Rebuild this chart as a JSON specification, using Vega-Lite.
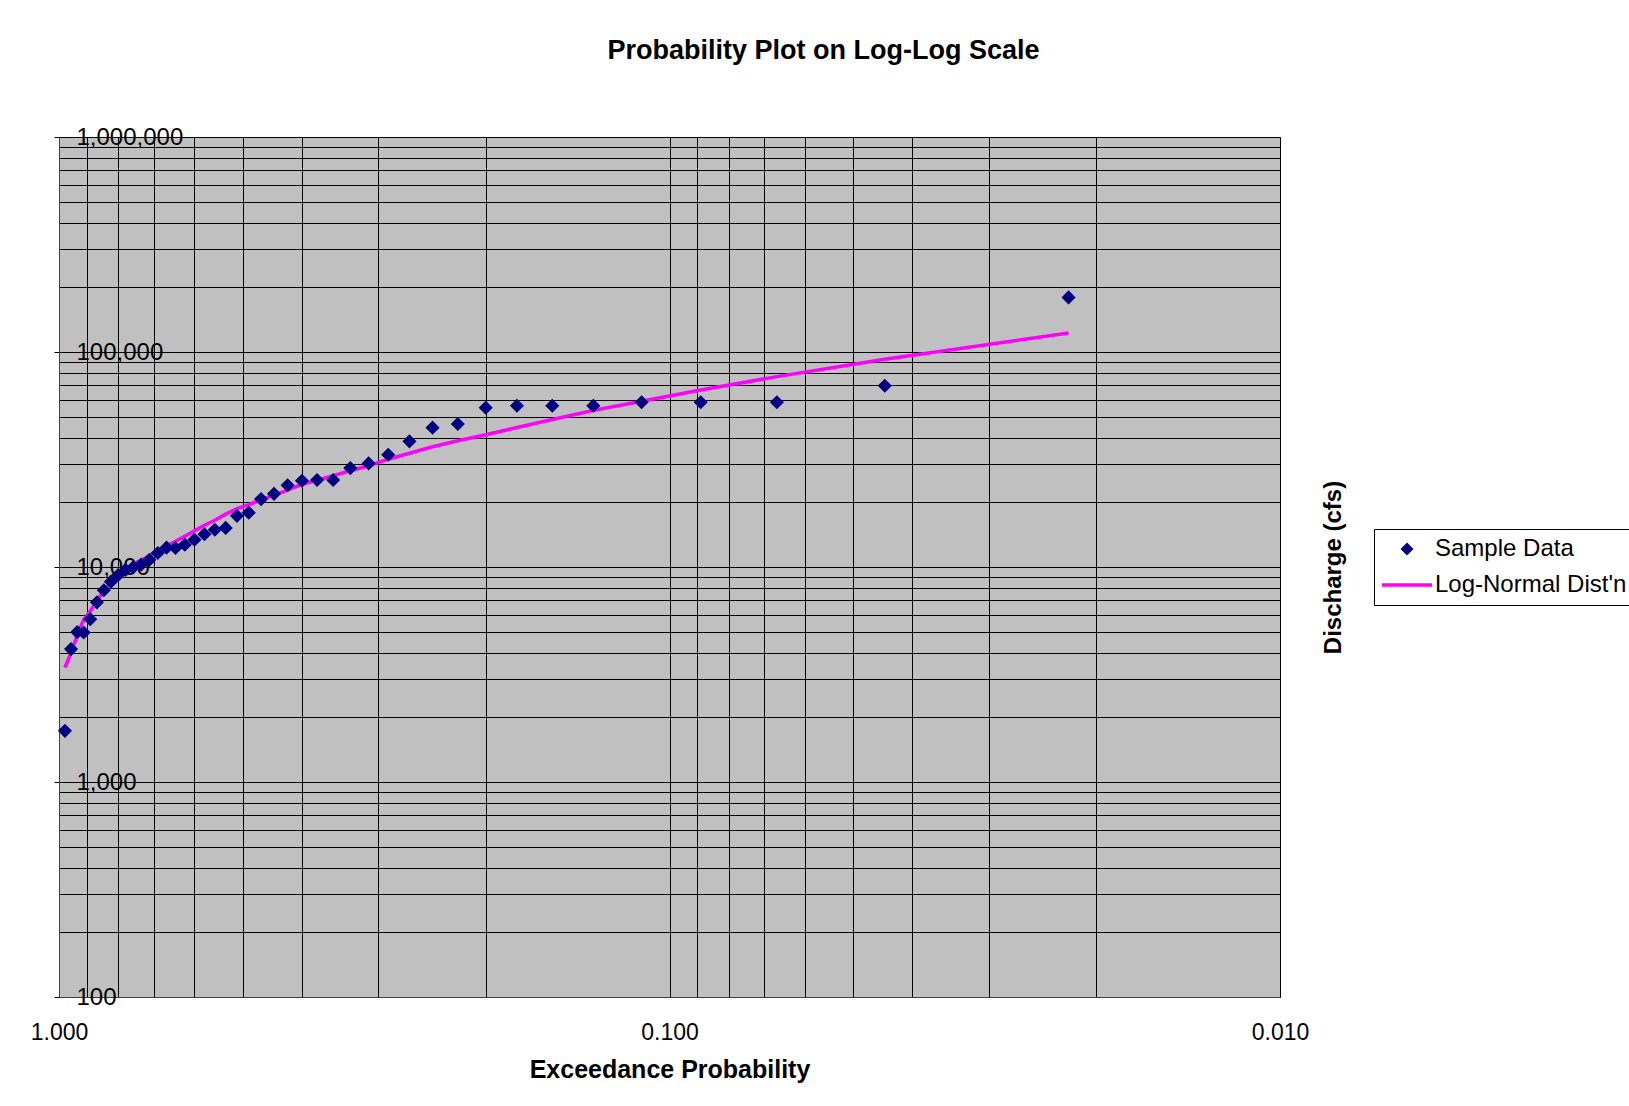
{
  "$schema": "https://vega.github.io/schema/vega-lite/v6.json",
  "width": 1221,
  "height": 860,
  "autosize": {"type": "none"},
  "padding": {"left": 59, "top": 137, "right": 349, "bottom": 109},
  "background": "white",
  "title": {
    "text": "Probability Plot on Log-Log Scale",
    "font": "Liberation Sans",
    "fontSize": 27,
    "fontWeight": "bold",
    "color": "#000000",
    "anchor": "middle",
    "frame": "group",
    "dx": 154,
    "baseline": "bottom",
    "offset": 33
  },
  "data": {
    "values": [
      {"p": 0.0222, "q": 179500, "fit": 122500},
      {"p": 0.0444, "q": 69700, "fit": 92600},
      {"p": 0.0667, "q": 58350, "fit": 76800},
      {"p": 0.0889, "q": 58350, "fit": 66600},
      {"p": 0.1111, "q": 58350, "fit": 59000},
      {"p": 0.1333, "q": 56240, "fit": 53500},
      {"p": 0.1556, "q": 56240, "fit": 48550},
      {"p": 0.1778, "q": 56240, "fit": 44560},
      {"p": 0.2, "q": 55070, "fit": 41240},
      {"p": 0.2222, "q": 46260, "fit": 38650},
      {"p": 0.2444, "q": 44460, "fit": 36270},
      {"p": 0.2667, "q": 38400, "fit": 33830},
      {"p": 0.2889, "q": 33280, "fit": 31720},
      {"p": 0.3111, "q": 30330, "fit": 29590},
      {"p": 0.3333, "q": 28840, "fit": 28040},
      {"p": 0.3556, "q": 25400, "fit": 26590},
      {"p": 0.3778, "q": 25400, "fit": 25330},
      {"p": 0.4, "q": 25200, "fit": 24270},
      {"p": 0.4222, "q": 24000, "fit": 22760},
      {"p": 0.4444, "q": 21900, "fit": 21580},
      {"p": 0.4667, "q": 20700, "fit": 20560},
      {"p": 0.4889, "q": 17900, "fit": 19490},
      {"p": 0.5111, "q": 17300, "fit": 18670},
      {"p": 0.5333, "q": 15200, "fit": 17610},
      {"p": 0.5556, "q": 14900, "fit": 16500},
      {"p": 0.5778, "q": 14200, "fit": 15640},
      {"p": 0.6, "q": 13400, "fit": 14750},
      {"p": 0.6222, "q": 12700, "fit": 13910},
      {"p": 0.6444, "q": 12250, "fit": 13180},
      {"p": 0.6667, "q": 12300, "fit": 12560},
      {"p": 0.6889, "q": 11620, "fit": 11980},
      {"p": 0.7111, "q": 10800, "fit": 11290},
      {"p": 0.7333, "q": 10260, "fit": 10760},
      {"p": 0.7556, "q": 9970, "fit": 10360},
      {"p": 0.7778, "q": 9690, "fit": 9770},
      {"p": 0.8, "q": 9180, "fit": 9160},
      {"p": 0.8222, "q": 8550, "fit": 8450},
      {"p": 0.8444, "q": 7800, "fit": 7760},
      {"p": 0.8667, "q": 6850, "fit": 6970},
      {"p": 0.8889, "q": 5720, "fit": 6230},
      {"p": 0.9111, "q": 4960, "fit": 5690},
      {"p": 0.9333, "q": 4980, "fit": 4840},
      {"p": 0.9556, "q": 4150, "fit": 3990},
      {"p": 0.9778, "q": 1730, "fit": 3410}
    ]
  },
  "encoding": {
    "x": {
      "field": "p",
      "type": "quantitative",
      "scale": {"type": "log", "domain": [0.01, 1], "reverse": true, "nice": false},
      "axis": {
        "values": [1, 0.9, 0.8, 0.7, 0.6, 0.5, 0.4, 0.3, 0.2, 0.1, 0.09, 0.08, 0.07, 0.06, 0.05, 0.04, 0.03, 0.02, 0.01],
        "grid": true,
        "gridColor": "#000000",
        "gridWidth": 1,
        "gridOpacity": 1,
        "ticks": false,
        "domain": true,
        "domainColor": "#404040",
        "labelExpr": "(datum.value == 1 || datum.value == 0.1 || datum.value == 0.01) ? format(datum.value, '.3f') : ''",
        "labelFont": "Liberation Sans",
        "labelFontSize": 23,
        "labelColor": "#000000",
        "labelPadding": 24,
        "labelFlush": false,
        "labelOverlap": false,
        "title": "Exceedance Probability",
        "titleFont": "Liberation Sans",
        "titleFontSize": 25,
        "titleFontWeight": "bold",
        "titleColor": "#000000",
        "titlePadding": 13
      }
    }
  },
  "layer": [
    {
      "mark": {"type": "line", "strokeWidth": 3.5, "clip": true},
      "encoding": {
        "y": {
          "field": "fit",
          "type": "quantitative",
          "scale": {"type": "log", "domain": [100, 1000000], "nice": false},
          "axis": {
            "values": [100, 200, 300, 400, 500, 600, 700, 800, 900, 1000, 2000, 3000, 4000, 5000, 6000, 7000, 8000, 9000, 10000, 20000, 30000, 40000, 50000, 60000, 70000, 80000, 90000, 100000, 200000, 300000, 400000, 500000, 600000, 700000, 800000, 900000, 1000000],
            "grid": true,
            "gridColor": "#000000",
            "gridWidth": 1,
            "gridOpacity": 1,
            "tickSize": 5,
            "tickColor": "#000000",
            "tickOpacity": {"condition": {"test": "indexof([100, 1000, 10000, 100000, 1000000], datum.value) >= 0", "value": 1}, "value": 0},
            "domainColor": "#404040",
            "labelExpr": "indexof([100, 1000, 10000, 100000, 1000000], datum.value) >= 0 ? format(datum.value, ',') : ''",
            "labelAlign": "left",
            "labelBaseline": "middle",
            "labelPadding": -22,
            "labelFont": "Liberation Sans",
            "labelFontSize": 24,
            "labelColor": "#000000",
            "labelOverlap": false,
            "labelFlush": false,
            "title": "Discharge (cfs)",
            "titleX": 1274,
            "titleY": 430,
            "titleAngle": -90,
            "titleAlign": "center",
            "titleBaseline": "middle",
            "titleFont": "Liberation Sans",
            "titleFontSize": 24,
            "titleFontWeight": "bold",
            "titleColor": "#000000"
          }
        },
        "color": {
          "datum": "Log-Normal Dist'n",
          "type": "nominal",
          "scale": {"domain": ["Sample Data", "Log-Normal Dist'n"], "range": ["#000080", "#FF00FF"]},
          "legend": {
            "orient": "none",
            "legendX": 1315,
            "legendY": 392,
            "title": null,
            "direction": "vertical",
            "fillColor": "#FFFFFF",
            "strokeColor": "#000000",
            "padding": 8,
            "cornerRadius": 0,
            "labelFont": "Liberation Sans",
            "labelFontSize": 24,
            "labelColor": "#000000",
            "labelLimit": 0,
            "symbolSize": 150,
            "symbolOffset": 13,
            "labelOffset": 16,
            "rowPadding": 12,
            "encode": {
              "symbols": {
                "update": {
                  "shape": {"signal": "datum.value === 'Sample Data' ? 'diamond' : 'stroke'"},
                  "size": {"signal": "datum.value === 'Sample Data' ? 170 : 2500"},
                  "fill": {"signal": "datum.value === 'Sample Data' ? '#000080' : 'transparent'"},
                  "stroke": {"signal": "datum.value === 'Sample Data' ? '#000080' : '#FF00FF'"},
                  "strokeWidth": {"signal": "datum.value === 'Sample Data' ? 0 : 3.5"},
                  "opacity": {"value": 1}
                }
              }
            }
          }
        }
      }
    },
    {
      "mark": {"type": "point", "shape": "diamond", "filled": true, "size": 200, "opacity": 1},
      "encoding": {
        "y": {
          "field": "q",
          "type": "quantitative",
          "scale": {"type": "log", "domain": [100, 1000000], "nice": false}
        },
        "color": {"datum": "Sample Data", "type": "nominal"}
      }
    }
  ],
  "config": {
    "view": {"fill": "#C0C0C0", "stroke": "#808080", "strokeWidth": 1},
    "font": "Liberation Sans"
  }
}
